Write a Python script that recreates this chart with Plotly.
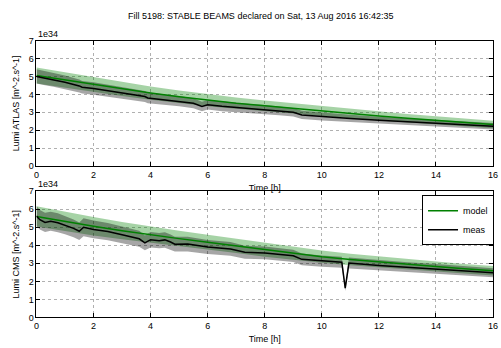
import plotly.graph_objects as go

# ---- data (luminosity in units of 1e34 m^-2 s^-1) ----
hours = [0, 1, 2, 3, 4, 5, 6, 7, 8, 9, 10, 11, 12, 13, 14, 15, 16]

atlas_model = [5.05, 4.80, 4.55, 4.30, 4.07, 3.86, 3.67, 3.50, 3.36, 3.21, 3.07, 2.93, 2.79, 2.66, 2.54, 2.43, 2.32]
atlas_model_hi = [5.50, 5.23, 4.96, 4.69, 4.44, 4.21, 4.00, 3.82, 3.66, 3.50, 3.35, 3.19, 3.04, 2.90, 2.77, 2.65, 2.53]
atlas_model_lo = [4.60, 4.37, 4.14, 3.91, 3.70, 3.51, 3.34, 3.19, 3.06, 2.92, 2.79, 2.67, 2.54, 2.42, 2.31, 2.21, 2.11]

atlas_t = [0, 0.3, 0.6, 1.0, 1.5, 1.6, 2.0, 2.5, 3.0, 3.5, 3.8, 3.9, 4.5, 5.0, 5.5, 5.8, 6.0, 6.5, 7.0, 7.5,
           8.0, 8.5, 9.0, 9.3, 10, 11, 12, 13, 14, 15, 16]
atlas_meas = [5.00, 4.90, 4.82, 4.68, 4.47, 4.40, 4.33, 4.20, 4.07, 3.95, 3.88, 3.80, 3.70, 3.62, 3.50, 3.32, 3.42, 3.33, 3.26, 3.20,
              3.15, 3.08, 3.00, 2.85, 2.76, 2.65, 2.55, 2.46, 2.38, 2.30, 2.22]
atlas_meas_hi = [5.40, 5.29, 5.21, 5.05, 4.83, 4.75, 4.68, 4.54, 4.40, 4.27, 4.19, 4.10, 4.00, 3.91, 3.78, 3.59, 3.69, 3.60, 3.52, 3.46,
                 3.40, 3.33, 3.24, 3.08, 2.98, 2.86, 2.75, 2.66, 2.57, 2.48, 2.40]
atlas_meas_lo = [4.60, 4.51, 4.43, 4.31, 4.11, 4.05, 3.98, 3.86, 3.74, 3.63, 3.57, 3.50, 3.40, 3.33, 3.22, 3.05, 3.15, 3.06, 3.00, 2.94,
                 2.90, 2.83, 2.76, 2.62, 2.54, 2.44, 2.35, 2.26, 2.19, 2.12, 2.04]

cms_model = [5.60, 5.32, 5.06, 4.81, 4.58, 4.37, 4.17, 3.97, 3.74, 3.54, 3.37, 3.21, 3.07, 2.94, 2.82, 2.70, 2.59]
cms_model_hi = [6.16, 5.85, 5.57, 5.29, 5.04, 4.81, 4.59, 4.37, 4.11, 3.89, 3.71, 3.53, 3.38, 3.23, 3.10, 2.97, 2.85]
cms_model_lo = [5.04, 4.79, 4.55, 4.33, 4.12, 3.93, 3.75, 3.57, 3.37, 3.19, 3.03, 2.89, 2.76, 2.65, 2.54, 2.43, 2.33]

cms_t = [0, 0.12, 0.3, 0.5, 0.75, 1.0, 1.3, 1.5, 1.65, 2.0, 2.5, 3.0, 3.6, 3.8, 4.0, 4.3, 4.5, 4.7, 4.85, 5.3,
         6.0, 6.8, 7.3, 8.0, 9.0, 9.3, 10.0, 10.7, 10.82, 10.95, 12.0, 13.0, 14.0, 15.0, 16.0]
cms_meas = [5.62, 5.42, 5.27, 5.33, 5.25, 5.12, 4.94, 4.78, 5.00, 4.88, 4.76, 4.58, 4.36, 4.13, 4.31, 4.25, 4.30, 4.18, 4.06, 4.07,
            3.91, 3.80, 3.62, 3.58, 3.42, 3.22, 3.12, 3.06, 1.62, 3.02, 2.88, 2.78, 2.69, 2.58, 2.48]
cms_meas_hi = [6.18, 5.96, 5.80, 5.86, 5.78, 5.63, 5.43, 5.26, 5.50, 5.37, 5.24, 5.04, 4.80, 4.54, 4.74, 4.68, 4.73, 4.60, 4.47, 4.48,
               4.30, 4.18, 3.98, 3.94, 3.76, 3.54, 3.43, 3.37, 1.78, 3.32, 3.17, 3.06, 2.96, 2.84, 2.73]
cms_meas_lo = [5.06, 4.88, 4.74, 4.80, 4.73, 4.61, 4.45, 4.30, 4.50, 4.39, 4.28, 4.12, 3.92, 3.72, 3.88, 3.83, 3.87, 3.76, 3.65, 3.66,
               3.52, 3.42, 3.26, 3.22, 3.08, 2.90, 2.81, 2.75, 1.46, 2.72, 2.59, 2.50, 2.42, 2.32, 2.23]

x_ticks = [0, 2, 4, 6, 8, 10, 12, 14, 16]
y_ticks = [0, 1, 2, 3, 4, 5, 6, 7]

title_text = "Fill 5198: STABLE BEAMS declared on Sat, 13 Aug 2016 16:42:35"
panels = [
    ("Lumi ATLAS [m^-2.s^-1]", atlas_model, atlas_model_hi, atlas_model_lo,
     atlas_t, atlas_meas, atlas_meas_hi, atlas_meas_lo),
    ("Lumi CMS [m^-2.s^-1]", cms_model, cms_model_hi, cms_model_lo,
     cms_t, cms_meas, cms_meas_hi, cms_meas_lo),
]

GREEN = "#008000"
GREEN_FILL = "rgba(0,128,0,0.35)"
GRAY_FILL = "rgba(0,0,0,0.35)"
FONT = "Liberation Sans, Arial, sans-serif"

fig = go.Figure()
W, H = 501, 348
domains_y = [[1 - 165.7 / H, 1 - 36.7 / H], [1 - 321.7 / H, 1 - 191.7 / H]]
domain_x = [34 / W, 498 / W]

for i, (ylab, m, mhi, mlo, t, v, vhi, vlo) in enumerate(panels):
    xa = "x" if i == 0 else "x2"
    ya = "y" if i == 0 else "y2"
    fig.add_trace(go.Scatter(x=hours + hours[::-1], y=mhi + mlo[::-1], fill="toself",
                             fillcolor=GREEN_FILL, line=dict(width=0), mode="lines",
                             hoverinfo="skip", showlegend=False, xaxis=xa, yaxis=ya))
    fig.add_trace(go.Scatter(x=t + t[::-1], y=vhi + vlo[::-1], fill="toself",
                             fillcolor=GRAY_FILL, line=dict(width=0), mode="lines",
                             hoverinfo="skip", showlegend=False, xaxis=xa, yaxis=ya))
    fig.add_trace(go.Scatter(x=hours, y=m, mode="lines", line=dict(color=GREEN, width=1.5),
                             name="model", showlegend=(i == 1), xaxis=xa, yaxis=ya))
    fig.add_trace(go.Scatter(x=t, y=v, mode="lines", line=dict(color="black", width=1.5),
                             name="meas", showlegend=(i == 1), xaxis=xa, yaxis=ya))

axis_common = dict(
    showline=True, linecolor="black", linewidth=1, mirror="allticks",
    ticks="inside", ticklen=4, tickcolor="black",
    showgrid=True, gridcolor="#b0b0b0", griddash="dot", gridwidth=1,
    zeroline=False, tickfont=dict(family=FONT, size=9, color="black"),
    ticklabeloverflow="allow",
)

for i, (ylab, *_rest) in enumerate(panels):
    sx = "" if i == 0 else "2"
    fig.layout["xaxis" + sx] = dict(
        axis_common, domain=domain_x, range=[0, 16], tickvals=x_ticks,
        ticktext=[str(k) for k in x_ticks], anchor="y" + sx,
        title=dict(text="Time [h]", font=dict(family=FONT, size=9, color="black"), standoff=5),
    )
    fig.layout["yaxis" + sx] = dict(
        axis_common, domain=domains_y[i], range=[0, 7], tickvals=y_ticks,
        ticktext=[str(k) for k in y_ticks], anchor="x" + sx,
        title=dict(text=ylab, font=dict(family=FONT, size=9, color="black"), standoff=7),
    )
    fig.add_annotation(text="1e34", xref="paper", yref="paper",
                       x=domain_x[0], y=domains_y[i][1], xanchor="left", yanchor="bottom",
                       showarrow=False, font=dict(family=FONT, size=9, color="black"))

fig.add_annotation(text=title_text, xref="paper", yref="paper", x=262 / W, y=1 - 11 / H,
                   xanchor="center", yanchor="middle", showarrow=False,
                   font=dict(family=FONT, size=9, color="black"))

fig.update_layout(
    width=W, height=H, margin=dict(l=0, r=0, t=0, b=0),
    paper_bgcolor="white", plot_bgcolor="white",
    legend=dict(x=domain_x[1] + 0.002, y=domains_y[1][1] - 0.012, xanchor="right", yanchor="top",
                bgcolor="white", bordercolor="black", borderwidth=1,
                font=dict(family=FONT, size=9, color="black"),
                tracegroupgap=0, itemwidth=30),
)

fig.write_html("out.html", config={"displayModeBar": False},
               post_script="document.body.style.margin='0';")
